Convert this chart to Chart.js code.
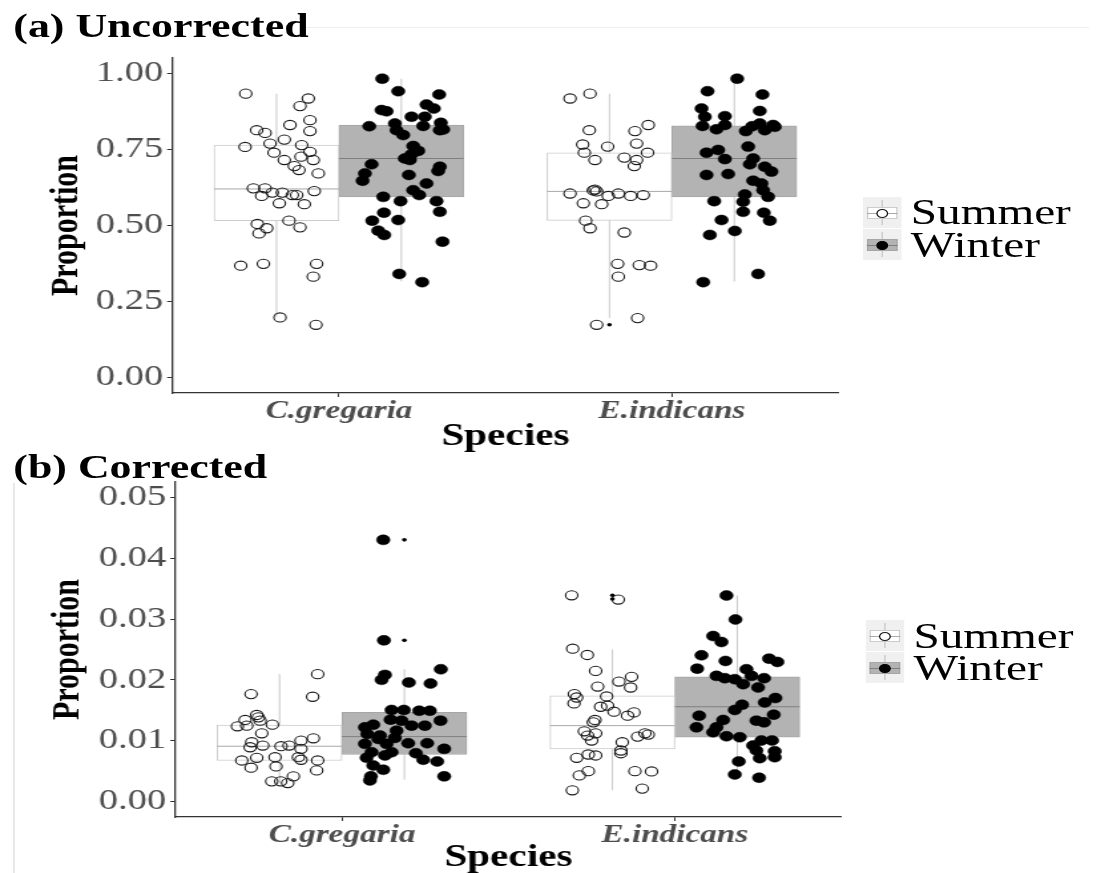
<!DOCTYPE html>
<html><head><meta charset="utf-8">
<script src="https://cdn.jsdelivr.net/npm/chart.js@4.4.0/dist/chart.umd.min.js"></script>
<style>
html,body{margin:0;padding:0;background:#fff;overflow:hidden;width:1097px;height:873px;}
#stage{position:absolute;left:0;top:0;width:825px;height:873px;transform:scaleX(1.3297);transform-origin:0 0;}
canvas{position:absolute;left:0;}
#ca{top:0;}
#cb{top:452px;}
.title{position:absolute;left:10px;font:bold 33px "Liberation Serif",serif;line-height:33px;color:#000;white-space:nowrap;}
.key{position:absolute;width:29px;height:31px;background:#f0f0f0;}
.key .wh{position:absolute;left:14px;top:3px;width:1px;height:25px;background:#c8c8c8;}
.key .bx{position:absolute;left:3px;top:10px;width:23px;height:12px;box-sizing:border-box;border:1px solid #cccccc;background:#fff;}
.key .md{position:absolute;left:3px;top:15.5px;width:23px;height:1px;background:#aaaaaa;}
.key .pt{position:absolute;left:10px;top:11.5px;width:9px;height:9px;border-radius:50%;box-sizing:border-box;border:1.2px solid #1a1a1a;background:#fff;}
.key.w .bx{background:#b3b3b3;border-color:#a6a6a6;}
.key.w .md{background:#7f7f7f;}
.key.w .pt{background:#000;border-color:#000;}
.lab{position:absolute;font:35.5px "Liberation Serif",serif;line-height:35px;color:#000;white-space:nowrap;}
#hline{position:absolute;left:229px;top:27px;width:590px;height:1px;background:#efefef;}
#vline{position:absolute;left:10px;top:483px;width:1px;height:390px;background:#dcdcdc;}
</style></head>
<body>
<div id="stage">
  <div id="hline"></div>
  <div id="vline"></div>
  <canvas id="ca" width="825" height="452"></canvas>
  <canvas id="cb" width="825" height="421"></canvas>
  <div class="title" style="top:10px">(a) Uncorrected</div>
  <div class="title" style="top:451px">(b) Corrected</div>

  <div class="key" style="left:649px;top:197px"><div class="wh"></div><div class="bx"></div><div class="md"></div><div class="pt"></div></div>
  <div class="key w" style="left:649px;top:229px"><div class="wh"></div><div class="bx"></div><div class="md"></div><div class="pt"></div></div>
  <div class="lab" style="left:685px;top:194.5px">Summer</div>
  <div class="lab" style="left:685px;top:227.5px">Winter</div>

  <div class="key" style="left:651px;top:620px"><div class="wh"></div><div class="bx"></div><div class="md"></div><div class="pt"></div></div>
  <div class="key w" style="left:651px;top:652px"><div class="wh"></div><div class="bx"></div><div class="md"></div><div class="pt"></div></div>
  <div class="lab" style="left:687px;top:618.5px">Summer</div>
  <div class="lab" style="left:687px;top:650.5px">Winter</div>
</div>
<script>
const species = ['C.gregaria', 'E.indicans'];
const seasons = ['Summer', 'Winter'];

const uncYTicks = [0, 0.25, 0.5, 0.75, 1.0];
const uncYTickLabels = ['0.00', '0.25', '0.50', '0.75', '1.00'];
const corYTicks = [0, 0.01, 0.02, 0.03, 0.04, 0.05];
const corYTickLabels = ['0.00', '0.01', '0.02', '0.03', '0.04', '0.05'];

// box stats per species: [lower whisker, Q1, median, Q3, upper whisker]
const uncSummerStats = [[0.200, 0.516, 0.620, 0.764, 0.933], [0.196, 0.517, 0.612, 0.739, 0.933]];
const uncWinterStats = [[0.316, 0.594, 0.720, 0.830, 0.982], [0.316, 0.594, 0.720, 0.827, 0.982]];
const corSummerStats = [[0.0030, 0.00678, 0.00912, 0.01261, 0.02095], [0.00188, 0.00869, 0.0125, 0.0174, 0.0250]];
const corWinterStats = [[0.00362, 0.00776, 0.0107, 0.01467, 0.02176], [0.00379, 0.01059, 0.0156, 0.02051, 0.03386]];

// outliers (y values) per species
const uncSummerOut = [[], [0.174]];
const uncWinterOut = [[], []];
const corSummerOut = [[], [0.0339, 0.0333]];
const corWinterOut = [[0.043, 0.0265], []];

// jittered observations: [x position on species axis (1 = C.gregaria, 2 = E.indicans), proportion]
const uncSummerPts = [
[0.720,0.933],[0.908,0.917],[0.883,0.892],[0.913,0.846],[0.853,0.830],[0.913,0.810],[0.753,0.813],[0.778,0.804],[0.836,0.782],[0.793,0.769],[0.718,0.758],[0.888,0.764],[0.913,0.742],[0.805,0.739],[0.886,0.726],[0.836,0.715],[0.923,0.715],[0.866,0.695],[0.880,0.682],[0.938,0.671],[0.743,0.622],[0.778,0.622],[0.768,0.597],[0.800,0.608],[0.830,0.608],[0.860,0.600],[0.873,0.600],[0.926,0.613],[0.821,0.573],[0.896,0.570],[0.755,0.505],[0.783,0.491],[0.760,0.474],[0.850,0.516],[0.883,0.494],[0.705,0.368],[0.773,0.374],[0.933,0.374],[0.923,0.332],[0.823,0.198],[0.931,0.174],
[1.694,0.917],[1.754,0.933],[1.929,0.830],[1.889,0.810],[1.752,0.813],[1.732,0.766],[1.807,0.759],[1.894,0.769],[1.737,0.739],[1.927,0.739],[1.769,0.715],[1.857,0.723],[1.894,0.715],[1.887,0.695],[1.694,0.605],[1.769,0.618],[1.774,0.612],[1.809,0.597],[1.839,0.605],[1.876,0.597],[1.914,0.600],[1.734,0.573],[1.789,0.570],[1.741,0.516],[1.754,0.491],[1.857,0.477],[1.837,0.374],[1.902,0.370],[1.936,0.368],[1.839,0.332],[1.774,0.174],[1.897,0.196],[1.764,0.615]
];
const uncWinterPts = [
[1.130,0.982],[1.178,0.941],[1.301,0.930],[1.263,0.897],[1.285,0.884],[1.128,0.879],[1.143,0.875],[1.218,0.857],[1.258,0.857],[1.091,0.826],[1.168,0.835],[1.253,0.827],[1.306,0.837],[1.173,0.813],[1.193,0.797],[1.303,0.813],[1.313,0.815],[1.223,0.761],[1.238,0.745],[1.218,0.734],[1.198,0.720],[1.213,0.715],[1.098,0.701],[1.303,0.693],[1.078,0.671],[1.298,0.679],[1.210,0.666],[1.071,0.647],[1.263,0.638],[1.223,0.616],[1.241,0.600],[1.133,0.594],[1.185,0.580],[1.293,0.580],[1.303,0.545],[1.135,0.542],[1.100,0.516],[1.178,0.518],[1.118,0.483],[1.136,0.469],[1.311,0.447],[1.181,0.341],[1.250,0.314],
[2.196,0.982],[2.107,0.941],[2.272,0.930],[2.089,0.884],[2.264,0.876],[2.099,0.857],[2.159,0.859],[2.092,0.827],[2.134,0.816],[2.159,0.830],[2.222,0.810],[2.241,0.826],[2.264,0.835],[2.279,0.813],[2.304,0.830],[2.309,0.824],[2.229,0.759],[2.104,0.739],[2.139,0.748],[2.159,0.718],[2.244,0.720],[2.234,0.701],[2.279,0.693],[2.299,0.677],[2.104,0.666],[2.169,0.669],[2.244,0.647],[2.269,0.638],[2.274,0.616],[2.289,0.594],[2.219,0.602],[2.214,0.578],[2.127,0.580],[2.214,0.545],[2.276,0.542],[2.294,0.516],[2.149,0.518],[2.189,0.482],[2.114,0.469],[2.094,0.314],[2.259,0.341]
];
const corSummerPts = [
[0.927,0.02095],[0.727,0.01768],[0.912,0.01724],[0.744,0.01425],[0.749,0.01386],[0.709,0.01343],[0.686,0.01239],[0.714,0.0125],[0.754,0.01332],[0.791,0.01266],[0.759,0.01124],[0.729,0.00977],[0.724,0.00895],[0.762,0.00923],[0.817,0.00912],[0.841,0.00923],[0.877,0.01005],[0.914,0.01042],[0.877,0.00869],[0.699,0.00678],[0.744,0.00722],[0.799,0.00732],[0.727,0.00559],[0.802,0.0058],[0.869,0.00732],[0.877,0.0069],[0.927,0.00678],[0.924,0.00515],[0.854,0.00417],[0.789,0.00335],[0.816,0.00335],[0.837,0.00307],
[1.690,0.0339],[1.830,0.0332],[1.693,0.02513],[1.737,0.0241],[1.762,0.02149],[1.870,0.02051],[1.832,0.01974],[1.867,0.01876],[1.768,0.01892],[1.698,0.01768],[1.705,0.01712],[1.697,0.01614],[1.795,0.01729],[1.777,0.0156],[1.798,0.01577],[1.817,0.01479],[1.877,0.01467],[1.858,0.01413],[1.760,0.01343],[1.755,0.01304],[1.728,0.01157],[1.762,0.01124],[1.738,0.01087],[1.750,0.01005],[1.888,0.0107],[1.910,0.01124],[1.920,0.01103],[1.842,0.00977],[1.838,0.00842],[1.838,0.00797],[1.740,0.00776],[1.762,0.0076],[1.705,0.00722],[1.740,0.00503],[1.713,0.00433],[1.880,0.00503],[1.930,0.00498],[1.692,0.00188],[1.902,0.00216]
];
const corWinterPts = [
[1.124,0.0430],[1.126,0.0265],[1.297,0.02176],[1.129,0.02083],[1.119,0.02002],[1.201,0.01958],[1.266,0.01941],[1.149,0.01507],[1.186,0.01507],[1.232,0.01495],[1.264,0.01495],[1.146,0.01348],[1.179,0.01332],[1.209,0.0125],[1.249,0.0125],[1.296,0.01332],[1.069,0.01222],[1.094,0.01266],[1.076,0.01114],[1.114,0.01087],[1.159,0.01049],[1.069,0.00951],[1.134,0.00951],[1.199,0.00961],[1.256,0.00961],[1.089,0.00814],[1.149,0.00814],[1.222,0.00797],[1.307,0.00869],[1.074,0.00722],[1.129,0.0076],[1.244,0.0069],[1.286,0.00662],[1.094,0.00596],[1.124,0.00526],[1.087,0.00417],[1.307,0.00417],[1.084,0.00351],[1.109,0.01032],[1.164,0.01168],
[2.155,0.03386],[2.182,0.02993],[2.115,0.02721],[2.140,0.02623],[2.080,0.02405],[2.152,0.02312],[2.067,0.02186],[2.283,0.0235],[2.308,0.02296],[2.215,0.02176],[2.125,0.02067],[2.150,0.02029],[2.180,0.02013],[2.205,0.01931],[2.230,0.02067],[2.268,0.02029],[2.250,0.01876],[2.270,0.01631],[2.302,0.01703],[2.202,0.01593],[2.180,0.01507],[2.297,0.0143],[2.073,0.01413],[2.245,0.01332],[2.268,0.01304],[2.065,0.01222],[2.145,0.01343],[2.125,0.01222],[2.115,0.01141],[2.155,0.01075],[2.195,0.01059],[2.260,0.01005],[2.292,0.01005],[2.235,0.00923],[2.245,0.00842],[2.300,0.0083],[2.300,0.00732],[2.255,0.00716],[2.192,0.00662],[2.180,0.00449],[2.253,0.00395]
];

const DODGE = 0.1875; // offset of each season's box from the species centre (category units)
const SERIF = '"Liberation Serif", "Times New Roman", serif';

function boxes(stats, off) {
  return stats.map((s, i) => ({x: i + 1 + off, y: [s[1], s[3]]}));
}
function whiskers(stats, off) {
  const out = [];
  stats.forEach((s, i) => {
    const c = i + 1 + off;
    out.push({x: c, y: s[0]}, {x: c, y: s[4]}, {x: c, y: null});
  });
  return out;
}
function medians(stats, off) {
  const out = [];
  stats.forEach((s, i) => {
    const c = i + 1 + off;
    out.push({x: c - DODGE, y: s[2]}, {x: c + DODGE, y: s[2]}, {x: c, y: null});
  });
  return out;
}
function outliers(outs, off) {
  const out = [];
  outs.forEach((arr, i) => arr.forEach(v => out.push({x: i + 1 + off, y: v})));
  return out;
}

function makePanel(id, o) {
  const ctx = document.getElementById(id);
  return new Chart(ctx, {
    type: 'bar',
    data: {
      labels: species,
      datasets: [
        {type: 'bar', label: seasons[0], xAxisID: 'xs', grouped: false, barThickness: o.boxPx, data: boxes(o.sStats, -DODGE), backgroundColor: '#ffffff', borderColor: '#cccccc', borderWidth: 1, borderSkipped: false, order: 4},
        {type: 'bar', label: seasons[1], xAxisID: 'xs', grouped: false, barThickness: o.boxPx, data: boxes(o.wStats, DODGE), backgroundColor: '#b3b3b3', borderColor: '#a6a6a6', borderWidth: 1, borderSkipped: false, order: 4},
        {type: 'line', label: 'wS', xAxisID: 'xs', data: whiskers(o.sStats, -DODGE), borderColor: '#c8c8c8', borderWidth: 1, pointRadius: 0, fill: false, spanGaps: false, order: 6},
        {type: 'line', label: 'wW', xAxisID: 'xs', data: whiskers(o.wStats, DODGE), borderColor: '#c8c8c8', borderWidth: 1, pointRadius: 0, fill: false, spanGaps: false, order: 6},
        {type: 'line', label: 'mS', xAxisID: 'xs', data: medians(o.sStats, -DODGE), borderColor: '#a8a8a8', borderWidth: 1, pointRadius: 0, fill: false, spanGaps: false, order: 3},
        {type: 'line', label: 'mW', xAxisID: 'xs', data: medians(o.wStats, DODGE), borderColor: '#7f7f7f', borderWidth: 1, pointRadius: 0, fill: false, spanGaps: false, order: 3},
        {type: 'scatter', label: 'pS', xAxisID: 'xs', data: o.sPts.map(p => ({x: p[0], y: p[1]})), pointRadius: 4.6, pointBorderWidth: 1.1, pointBorderColor: '#1a1a1a', pointBackgroundColor: 'rgba(255,255,255,0)', order: 2},
        {type: 'scatter', label: 'pW', xAxisID: 'xs', data: o.wPts.map(p => ({x: p[0], y: p[1]})), pointRadius: 5, pointBorderWidth: 0.5, pointBorderColor: '#000', pointBackgroundColor: '#000', order: 1},
        {type: 'scatter', label: 'out', xAxisID: 'xs', data: outliers(o.sOut, -DODGE).concat(outliers(o.wOut, DODGE)), pointRadius: 1.8, pointBorderWidth: 0, pointBackgroundColor: '#000', order: 0}
      ]
    },
    options: {
      responsive: false,
      animation: false,
      events: [],
      layout: {padding: {top: o.padTop, right: o.padRight, left: 0, bottom: 0}},
      plugins: {legend: {display: false}, tooltip: {enabled: false}},
      scales: {
        x: {
          type: 'category', offset: true,
          grid: {display: true, offset: false, drawOnChartArea: false, drawTicks: true, tickLength: 4, color: '#333', lineWidth: 1},
          border: {display: true, color: '#333', width: 1.3},
          ticks: {color: '#4d4d4d', font: {family: SERIF, size: 25, style: 'italic', weight: 'bold', lineHeight: 1}, padding: 2, maxRotation: 0, autoSkip: false},
          title: {display: true, text: 'Species', color: '#000', font: {family: SERIF, size: 31, weight: 'bold', lineHeight: 1}, padding: {top: 0, bottom: 0}},
          afterFit: s => { s.height = o.xHeight; }
        },
        xs: {type: 'linear', display: false, offset: false, min: 0.5, max: 2.5, grid: {offset: false}},
        y: {
          type: 'linear', min: o.yMin, max: o.yMax,
          afterBuildTicks: s => { s.ticks = o.yTicks.map(v => ({value: v})); },
          grid: {display: true, drawOnChartArea: false, drawTicks: true, tickLength: 4, color: '#333', lineWidth: 1},
          border: {display: true, color: '#333', width: 1.3},
          ticks: {color: '#4d4d4d', font: {family: SERIF, size: 29, lineHeight: 1}, padding: 3, callback: (v, i) => o.yLabels[i]},
          title: {display: true, text: 'Proportion', color: '#000', font: {family: SERIF, size: 30, weight: 'bold', lineHeight: 1}, padding: {top: o.titlePad, bottom: 0}},
          afterFit: s => { s.width = o.yWidth; }
        }
      }
    }
  });
}

makePanel('ca', {
  sStats: uncSummerStats, wStats: uncWinterStats, sPts: uncSummerPts, wPts: uncWinterPts,
  sOut: uncSummerOut, wOut: uncWinterOut, yTicks: uncYTicks, yLabels: uncYTickLabels,
  yMin: -0.05, yMax: 1.05, padTop: 58, padRight: 194.5, xHeight: 59, yWidth: 129.7, titlePad: 35, boxPx: 93.9
});
makePanel('cb', {
  sStats: corSummerStats, wStats: corWinterStats, sPts: corSummerPts, wPts: corWinterPts,
  sOut: corSummerOut, wOut: corWinterOut, yTicks: corYTicks, yLabels: corYTickLabels,
  yMin: -0.0025, yMax: 0.0525, padTop: 30, padRight: 192.3, xHeight: 56, yWidth: 132, titlePad: 36, boxPx: 93.9
});
</script>
</body></html>
